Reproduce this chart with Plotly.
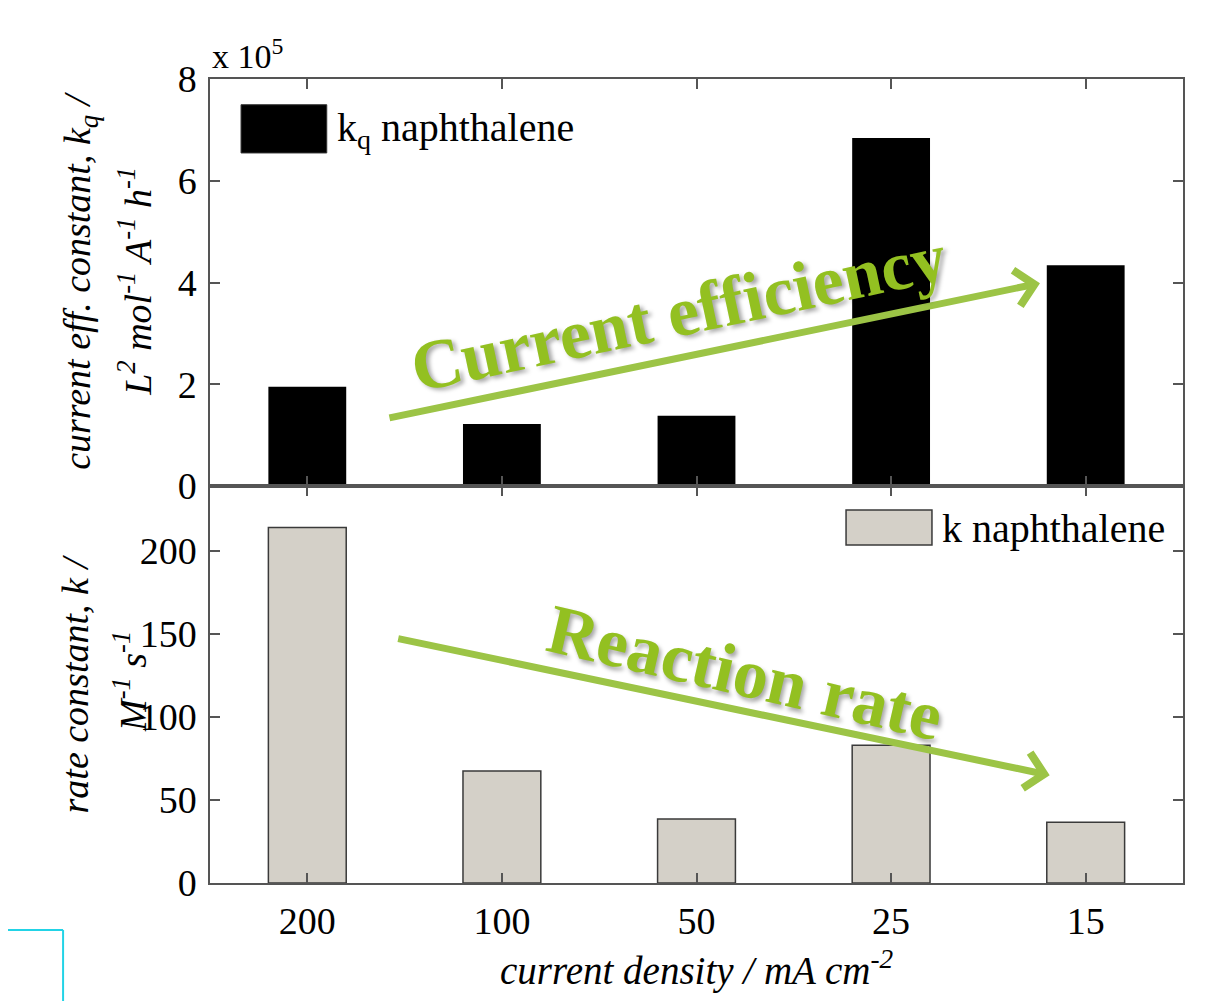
import plotly.graph_objects as go
from plotly.subplots import make_subplots

# current density categories (mA cm-2)
densities = ['200', '100', '50', '25', '15']
# current efficiency constant kq, in units of 1e5 L2 mol-1 A-1 h-1
kq_e5 = [1.95, 1.22, 1.38, 6.84, 4.34]
# rate constant k, M-1 s-1
k_rate = [214, 67.5, 38.5, 83, 36.5]

SERIF = 'Liberation Serif'
AXC = '#555555'
GREEN = '#9CC446'
TXTGREEN = '#93C021'

fig = make_subplots(rows=2, cols=1, shared_xaxes=True, vertical_spacing=0,
                    row_heights=[407, 397])

fig.add_trace(go.Bar(x=densities, y=kq_e5, width=0.4, name='kq naphthalene',
                     marker=dict(color='black', line=dict(width=0))),
              row=1, col=1)
fig.add_trace(go.Bar(x=densities, y=k_rate, width=0.4, name='k naphthalene',
                     marker=dict(color='#D4D0C8', line=dict(color='#3a3a3a', width=1.5))),
              row=2, col=1)

axis_style = dict(showline=True, mirror='ticks', linecolor=AXC, linewidth=1.5,
                  ticks='inside', ticklen=10, tickcolor=AXC, tickwidth=1.5,
                  showgrid=False, zeroline=False,
                  tickfont=dict(family=SERIF, size=38, color='black'))

fig.update_xaxes(**axis_style)
fig.update_yaxes(**axis_style)
fig.update_xaxes(range=[-0.5, 4.5], showticklabels=False, row=1, col=1)
fig.update_xaxes(range=[-0.5, 4.5], ticklabelstandoff=4, row=2, col=1)
fig.update_yaxes(range=[0, 8], tickvals=[0, 2, 4, 6, 8], ticklabelstandoff=4, row=1, col=1)
fig.update_yaxes(range=[0, 239], tickvals=[0, 50, 100, 150, 200], ticklabelstandoff=4, row=2, col=1)

title_font = dict(family=SERIF, size=38, color='black')
ann = []
# axis titles, one annotation per line so the line spacing can match
ann.append(dict(text='<i>current eff. constant, k<sub>q</sub> /</i>',
                xref='paper', yref='paper', x=-0.1336, y=0.749, textangle=-90,
                xanchor='center', yanchor='middle', showarrow=False, font=title_font))
ann.append(dict(text='<i>L<sup>2</sup> mol<sup>-1</sup> A<sup>-1</sup> h<sup>-1</sup></i>',
                xref='paper', yref='paper', x=-0.0771, y=0.749, textangle=-90,
                xanchor='center', yanchor='middle', showarrow=False, font=title_font))
ann.append(dict(text='<i>rate constant, k /</i>',
                xref='paper', yref='paper', x=-0.1387, y=0.247, textangle=-90,
                xanchor='center', yanchor='middle', showarrow=False, font=title_font))
ann.append(dict(text='<i>M<sup>-1</sup> s<sup>-1</sup></i>',
                xref='paper', yref='paper', x=-0.0822, y=0.250, textangle=-90,
                xanchor='center', yanchor='middle', showarrow=False, font=title_font))
ann.append(dict(text='<i>current density / mA cm<sup>-2</sup></i>',
                xref='paper', yref='paper', x=0.5, y=-0.106,
                xanchor='center', yanchor='middle', showarrow=False,
                font=dict(family=SERIF, size=39, color='black')))
ann.append(dict(text='x 10<sup>5</sup>', xref='paper', yref='paper', x=0.0, y=1.0,
                xanchor='left', yanchor='bottom', yshift=2, showarrow=False,
                font=dict(family=SERIF, size=34, color='black')))

# legends drawn by hand
ann.append(dict(text='k<sub>q</sub> naphthalene', xref='paper', yref='paper',
                x=0.1285, y=0.937, xanchor='left', yanchor='middle', showarrow=False,
                font=dict(family=SERIF, size=40, color='black')))
ann.append(dict(text='k naphthalene', xref='paper', yref='paper',
                x=0.750, y=0.4415, xanchor='left', yanchor='middle', showarrow=False,
                font=dict(family=SERIF, size=40, color='black')))

# trend arrows
ann.append(dict(text='', xref='paper', yref='paper', x=0.853, y=0.746,
                ax=-652, ay=135, axref='pixel', ayref='pixel', showarrow=True,
                arrowhead=4, arrowsize=1, arrowwidth=7, arrowcolor=GREEN))
ann.append(dict(text='', xref='paper', yref='paper', x=0.863, y=0.134,
                ax=-653, ay=-137, axref='pixel', ayref='pixel', showarrow=True,
                arrowhead=4, arrowsize=1, arrowwidth=7, arrowcolor=GREEN))
ann.append(dict(text='<b>Current efficiency</b>', xref='paper', yref='paper',
                x=0.481, y=0.710, textangle=-12, showarrow=False,
                xanchor='center', yanchor='middle',
                font=dict(family=SERIF, size=70, color=TXTGREEN,
                          shadow='3px 3px 4px rgba(0,0,0,0.35)')))
ann.append(dict(text='<b>Reaction rate</b>', xref='paper', yref='paper',
                x=0.550, y=0.262, textangle=13, showarrow=False,
                xanchor='center', yanchor='middle',
                font=dict(family=SERIF, size=70, color=TXTGREEN,
                          shadow='3px 3px 4px rgba(0,0,0,0.35)')))

shapes = [
    dict(type='rect', xref='paper', yref='paper', x0=0.0319, x1=0.120, y0=0.908, y1=0.968,
         fillcolor='black', line=dict(color='#333', width=1)),
    dict(type='rect', xref='paper', yref='paper', x0=0.6537, x1=0.742, y0=0.4204, y1=0.4639,
         fillcolor='#D4D0C8', line=dict(color='#3a3a3a', width=1.5)),
    # cyan frame fragment at the lower left corner
    dict(type='line', xref='paper', yref='paper', x0=-0.2158, x1=-0.151, y0=-0.0585, y1=-0.0585,
         line=dict(color='#22D3E6', width=2)),
    dict(type='line', xref='paper', yref='paper', x0=-0.151, x1=-0.151, y0=-0.0585, y1=-0.1468,
         line=dict(color='#22D3E6', width=2)),
]

# page body adds an 8px offset, so margins are shifted to compensate
fig.update_layout(width=1221, height=1001, showlegend=False,
                  margin=dict(l=202, r=46, t=71, b=126),
                  plot_bgcolor='white', paper_bgcolor='white',
                  annotations=ann, shapes=shapes)

fig.write_html("out.html")
